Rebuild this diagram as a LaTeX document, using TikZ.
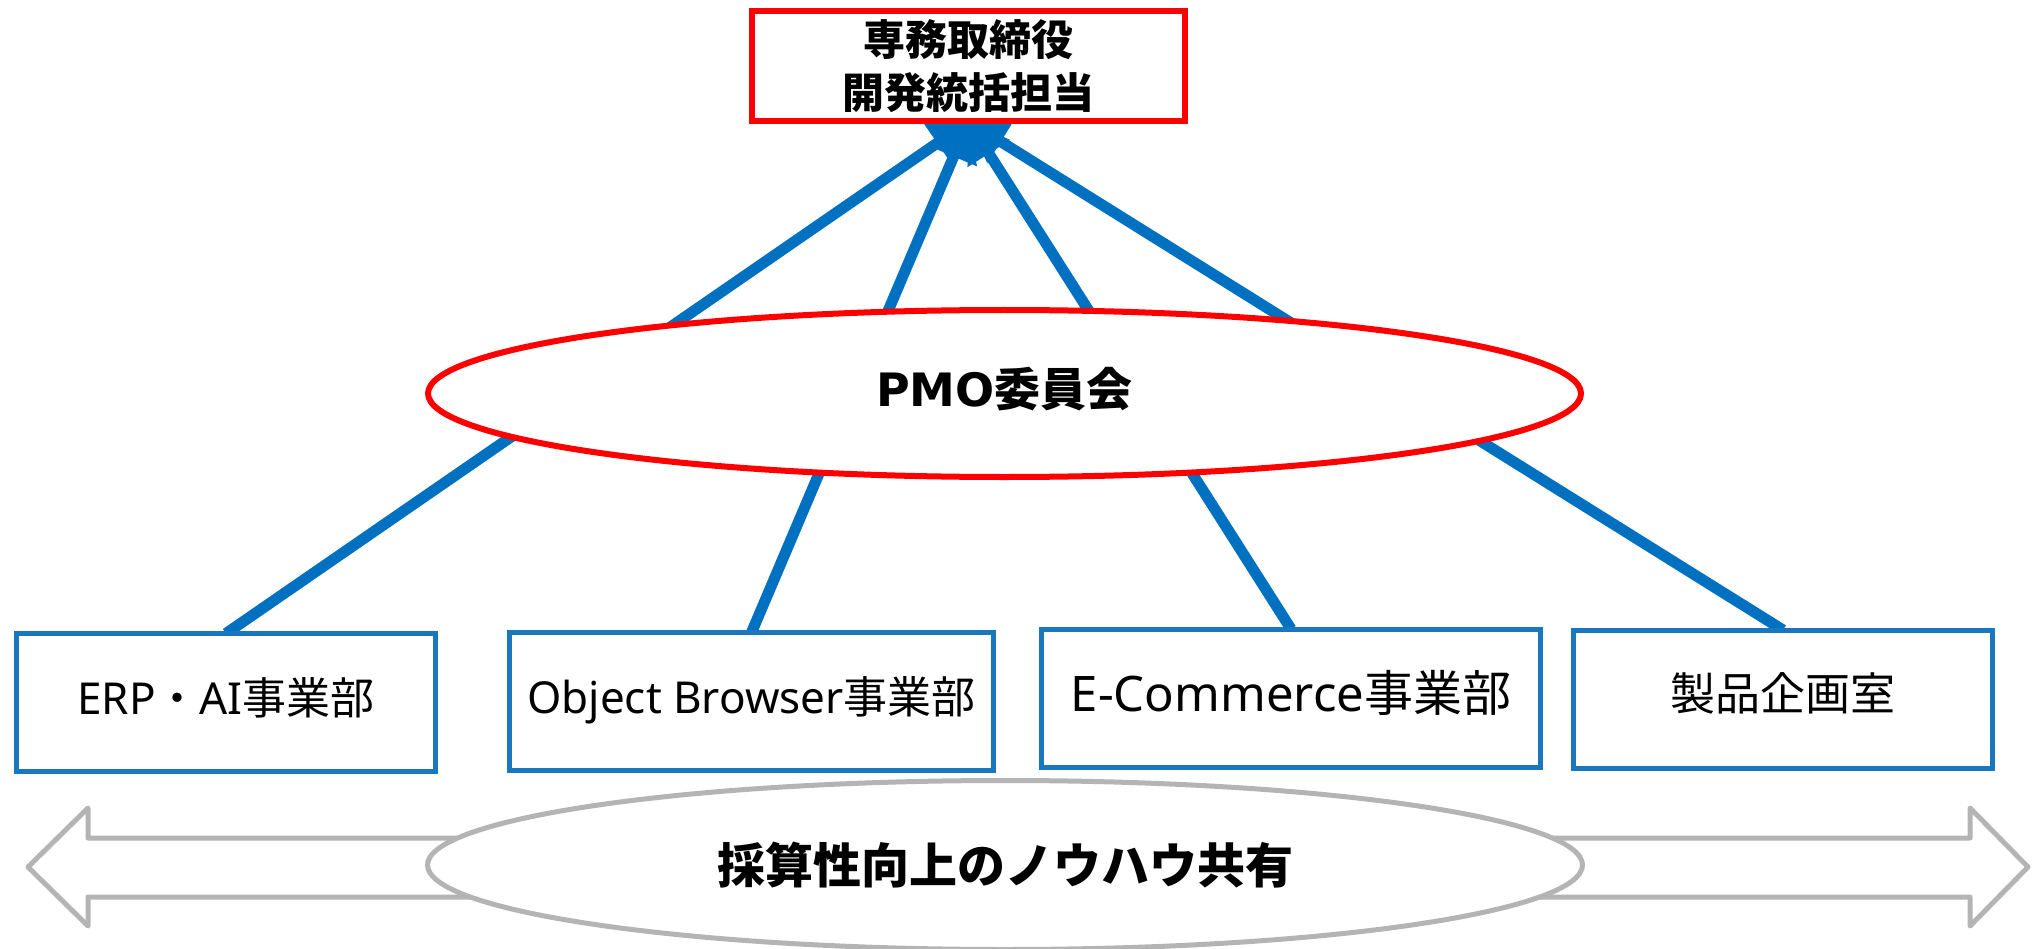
\documentclass[tikz,border=0pt]{standalone}
\usepackage{fontspec}
\setmainfont{Noto Sans}
\newfontfamily\jp{Noto Sans CJK JP}
\newfontfamily\pmofont{DejaVu Sans}
\usetikzlibrary{arrows.meta,shapes.geometric,backgrounds}
\definecolor{lineblue}{HTML}{0070C0}
\definecolor{boxblue}{HTML}{1A76BD}
\definecolor{arrgray}{HTML}{B4B4B4}
\definecolor{topred}{HTML}{FF0000}
\begin{document}
\begin{tikzpicture}[x=1pt,y=-1pt,
  dept/.style={draw=boxblue,line width=5pt,fill=white,rectangle,inner sep=0pt,outer sep=0pt,
    minimum height=138pt,text height=30pt,text depth=7pt},
  link/.style={draw=lineblue,line width=11pt,-{Triangle[length=38pt,width=48pt]}},
  topbox/.style={draw=topred,line width=6pt,fill=white,rectangle,inner sep=0pt,outer sep=0pt,
    minimum width=433pt,minimum height=110pt,align=center},
  pmo/.style={draw=topred,line width=6pt,fill=white,ellipse,inner sep=0pt,outer sep=0pt,
    minimum width=1153pt,minimum height=167pt},
  share/.style={draw=arrgray,line width=5pt,fill=white,ellipse,inner sep=0pt,outer sep=0pt,
    minimum width=1155pt,minimum height=169pt},
  dbl/.style={draw=arrgray,line width=5pt,line join=round,fill=white}
]
\useasboundingbox (0,0) rectangle (2033,949);

% top box
\node[topbox,font=\fontsize{42pt}{53pt}\selectfont\jp\bfseries] (top) at (968.5,66.5) {専務取締役\\開発統括担当};

% PMO committee
\node[pmo,font=\fontsize{46pt}{55pt}\selectfont\bfseries,text height=33pt,text depth=7pt] (pmo) at (1004.5,393.5) {{\pmofont\bfseries PMO}{\jp\bfseries 委員会}};

% departments
\node[dept,minimum width=419pt,font=\fontsize{44pt}{53pt}\selectfont] (b1) at (226,702.5) {ERP{\jp ・}AI{\jp 事業部}};
\node[dept,minimum width=484pt,font=\fontsize{44pt}{53pt}\selectfont] (b2) at (751.5,701.5) {Object Browser{\jp 事業部}};
\node[dept,minimum width=499pt,font=\fontsize{49pt}{58pt}\selectfont,text height=34pt] (b3) at (1291,698) {E-Commerce{\jp 事業部}};
\node[dept,minimum width=419pt,font=\fontsize{45pt}{54pt}\selectfont\jp] (b4) at (1783,699) {製品企画室};

% connectors (behind)
\begin{scope}[on background layer]
\draw[link] (b1.north) -- (top.south);
\draw[link] (b2.north) -- (top.south);
\draw[link] (b3.north) -- (top.south);
\draw[link] (b4.north) -- (top.south);
\end{scope}

% double arrow
\draw[dbl] (28,867) -- (88,808) -- (88,838) -- (1970,838) -- (1970,808) -- (2028,867)
  -- (1970,926) -- (1970,897) -- (88,897) -- (88,926) -- cycle;

% sharing ellipse
\node[share,font=\fontsize{48pt}{58pt}\selectfont\jp\bfseries] (share) at (1005,865) {採算性向上のノウハウ共有};
\end{tikzpicture}
\end{document}
